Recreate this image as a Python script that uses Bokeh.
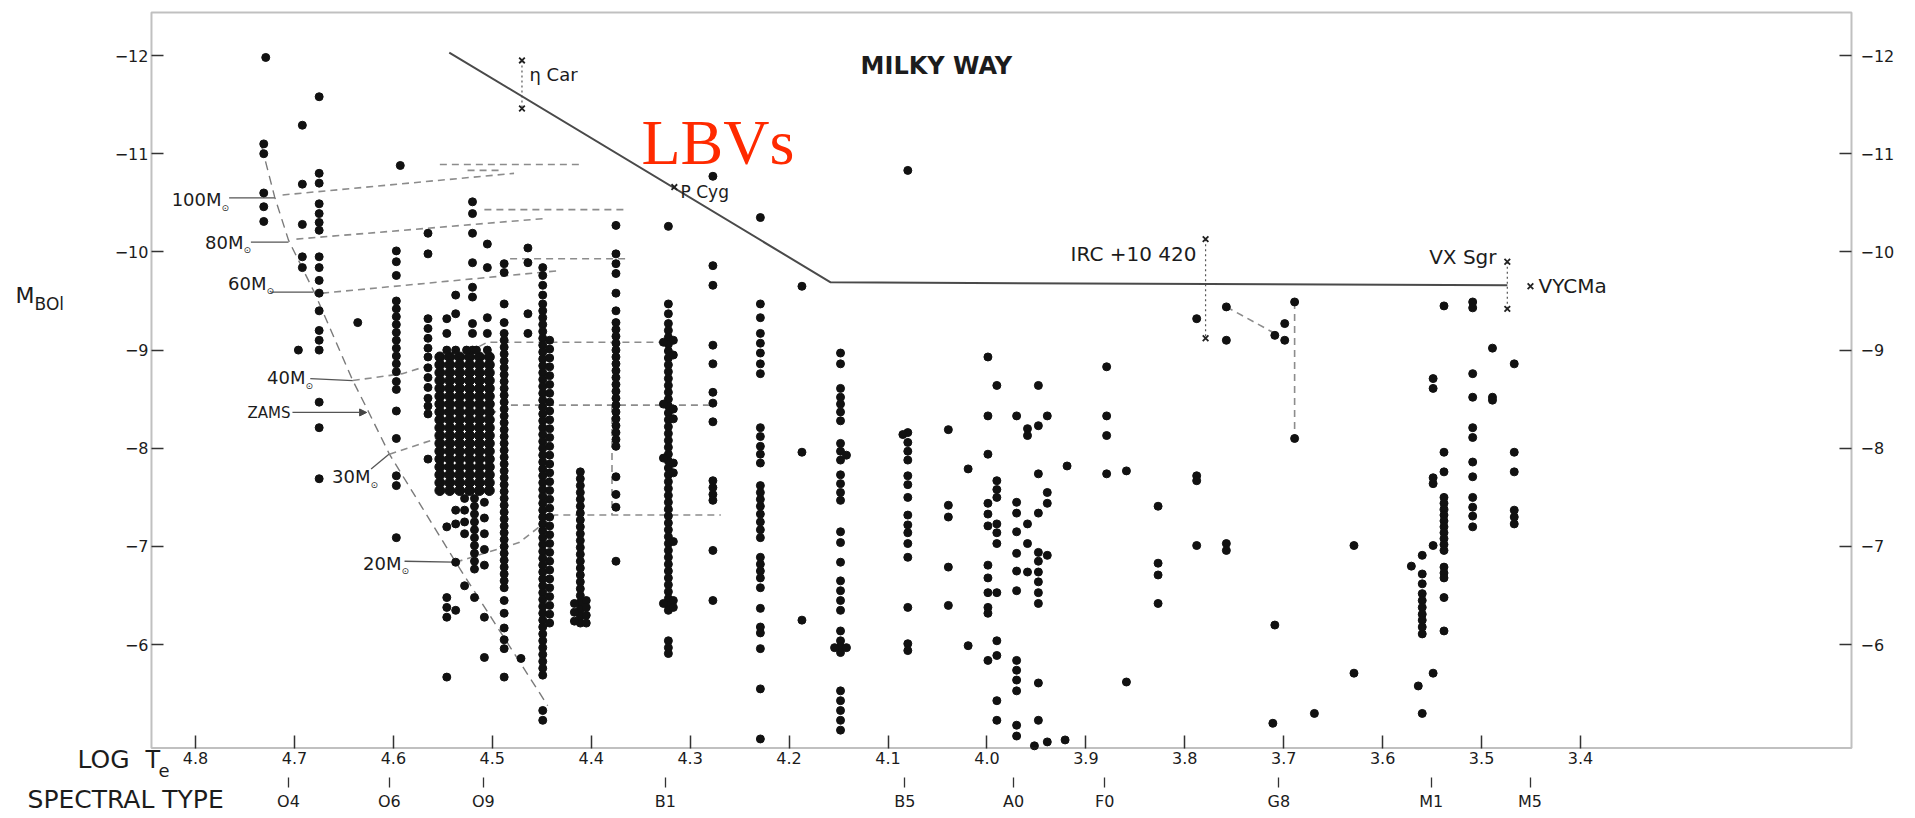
from bokeh.plotting import figure
from bokeh.models import (Range1d, LinearAxis, FixedTicker, CustomJSTickFormatter,
                          Arrow, NormalHead, BoxAnnotation)
from bokeh.core.properties import value
from bokeh.embed import file_html
from bokeh.resources import INLINE

FONT = "DejaVu Sans"
INK = "#1c1c1c"
DASH = "#8c8c8c"

# ---------------- axes / ticks ----------------
logte_ticks = [4.8, 4.7, 4.6, 4.5, 4.4, 4.3, 4.2, 4.1, 4.0, 3.9, 3.8, 3.7, 3.6, 3.5, 3.4]
mbol_ticks = [-12, -11, -10, -9, -8, -7, -6]
spec_types = ["O4", "O6", "O9", "B1", "B5", "A0", "F0", "G8", "M1", "M5"]
spec_logte = [4.706, 4.604, 4.509, 4.325, 4.083, 3.973, 3.881, 3.705, 3.551, 3.451]

# diagram box (data units) and the whole drawing area
box_left, box_right, box_bottom, box_top = 4.8445, 3.1261, -4.948, -12.438
view_x = (4.99711, 3.06140)
view_y = (-4.2301, -12.5601)
spec_axis_at = -4.709

# ---------------- stars (columns of log Te with their Mbol values) ----------------
star_columns = [
    (4.729, [-11.98]),
    (4.731, [-11.10, -11.00, -10.60, -10.46, -10.31]),
    (4.692, [-11.29, -10.69, -10.28, -9.95, -9.84]),
    (4.696, [-9.00]),
    (4.675, [-11.58, -10.80, -10.70, -10.49, -10.39, -10.30, -10.22, -9.95, -9.84, -9.71,
             -9.58, -9.40, -9.20, -9.10, -9.00, -8.47, -8.21, -7.69]),
    (4.636, [-9.28]),
    (4.593, [-10.88]),
    (4.597, [-10.01, -9.90, -9.76, -9.50, -9.42, -9.34, -9.26, -9.18, -9.10, -9.02, -8.94,
             -8.86, -8.78, -8.68, -8.60, -8.38, -8.10, -7.72, -7.62, -7.09]),
    (4.565, [-10.19, -9.98, -9.32, -9.22, -9.12, -9.02, -8.93, -8.82, -8.72, -8.62, -8.51,
             -8.43, -8.35, -7.89]),
    (4.546, [-9.32, -9.17, -9.00, -7.20, -6.48, -6.38, -6.28, -5.67]),
    (4.537, [-9.56, -9.37, -9.00, -7.37, -7.23, -6.84, -6.35]),
    (4.520, [-10.51, -10.39, -10.19, -9.89, -9.64, -9.54, -9.27, -9.17, -9.00]),
    (4.505, [-10.08, -9.84, -9.33, -9.17, -9.00]),
    (4.526, [-9.00]),
    (4.516, [-9.00]),
    (4.518, [-7.49, -7.41, -7.33, -7.25, -7.17, -7.09, -7.01, -6.93, -6.85, -6.77, -6.48]),
    (4.508, [-7.45, -7.29, -7.13, -6.97, -6.81, -6.28, -5.87]),
    (4.528, [-7.49, -7.37, -7.25, -7.13, -6.60]),
    (4.488, [-9.88, -9.79, -9.47, -9.28, -9.17, -9.10, -9.03, -8.96, -8.89, -8.82, -8.75,
             -8.68, -8.61, -8.54, -8.47, -8.40, -8.33, -8.26, -8.19, -8.12, -8.05, -7.98,
             -7.91, -7.84, -7.77, -7.70, -7.63, -7.56, -7.49, -7.42, -7.35, -7.28, -7.21,
             -7.14, -7.07, -7.00, -6.93, -6.86, -6.79, -6.72, -6.65, -6.58, -6.45, -6.32,
             -6.17, -6.05, -5.96, -5.67]),
    (4.471, [-5.86]),
    (4.464, [-10.04, -9.89, -9.37, -9.17]),
    (4.449, [-9.84, -9.76, -9.66, -9.56, -9.47, -9.40, -9.33, -9.26, -9.19, -9.12, -9.05,
             -8.98, -8.91, -8.84, -8.77, -8.70, -8.63, -8.56, -8.49, -8.42, -8.35, -8.28,
             -8.21, -8.14, -8.07, -8.00, -7.93, -7.86, -7.79, -7.72, -7.65, -7.58, -7.51,
             -7.44, -7.37, -7.30, -7.23, -7.16, -7.09, -7.02, -6.95, -6.88, -6.81, -6.74,
             -6.67, -6.60, -6.53, -6.46, -6.39, -6.32, -6.25, -6.18, -6.11, -6.04, -5.97,
             -5.90, -5.83, -5.76, -5.69, -5.33, -5.23]),
    (4.442, [-9.10, -9.01, -8.92, -8.83, -8.74, -8.65, -8.56, -8.47, -8.38, -8.29, -8.20,
             -8.11, -8.02, -7.93, -7.84, -7.75, -7.66, -7.57, -7.48, -7.39, -7.30, -7.21,
             -7.12, -7.03, -6.94, -6.85, -6.76, -6.67, -6.58, -6.49, -6.40, -6.31, -6.22]),
    (4.411, [-7.76, -7.69, -7.62, -7.55, -7.48, -7.41, -7.34, -7.27, -7.20, -7.13, -7.06,
             -6.99, -6.92, -6.85, -6.78, -6.71, -6.64, -6.57, -6.50, -6.43, -6.36, -6.29,
             -6.22]),
    (4.405, [-6.45, -6.38, -6.30, -6.22]),
    (4.417, [-6.42, -6.33, -6.24]),
    (4.375, [-10.27, -9.98, -9.88, -9.78, -9.58, -9.40, -9.28, -9.21, -9.14, -9.07, -9.00,
             -8.93, -8.86, -8.79, -8.72, -8.65, -8.58, -8.51, -8.44, -8.37, -8.30, -8.23,
             -8.16, -8.09, -8.02, -7.71, -7.53, -7.40, -6.85]),
    (4.322, [-10.26, -9.47, -9.37, -9.27, -9.20, -9.13, -9.06, -8.99, -8.92, -8.85, -8.78,
             -8.71, -8.64, -8.57, -8.50, -8.43, -8.36, -8.29, -8.22, -8.15, -8.08, -8.01,
             -7.94, -7.87, -7.80, -7.73, -7.66, -7.59, -7.52, -7.45, -7.38, -7.31, -7.24,
             -7.17, -7.10, -7.03, -6.96, -6.89, -6.82, -6.75, -6.68, -6.61, -6.54, -6.47,
             -6.40, -6.35, -6.04, -5.97, -5.91]),
    (4.317, [-9.10, -8.95, -8.40, -8.30, -7.85, -7.75, -7.05, -6.45, -6.38]),
    (4.327, [-9.08, -8.45, -7.90, -6.42]),
    (4.277, [-10.77, -9.86, -9.66, -9.05, -8.86, -8.57, -8.46, -8.27, -7.67, -7.60, -7.53,
             -7.47, -6.96, -6.45]),
    (4.229, [-10.35, -9.47, -9.33, -9.17, -9.07, -8.97, -8.86, -8.76, -8.21, -8.12, -8.02,
             -7.94, -7.85, -7.62, -7.55, -7.48, -7.41, -7.33, -7.25, -7.17, -7.09, -6.89,
             -6.82, -6.75, -6.68, -6.58, -6.37, -6.18, -6.12, -5.96, -5.55, -5.04]),
    (4.187, [-9.65, -7.96, -6.25]),
    (4.148, [-8.97, -8.86, -8.61, -8.52, -8.45, -8.37, -8.28, -8.05, -7.97, -7.88, -7.73,
             -7.64, -7.55, -7.47, -7.15, -7.04, -6.84, -6.65, -6.55, -6.45, -6.35, -6.14,
             -6.04, -5.98, -5.92, -5.53, -5.43, -5.33, -5.23, -5.13]),
    (4.142, [-7.93, -5.97]),
    (4.154, [-5.97]),
    (4.080, [-10.83, -8.16, -8.06, -7.97, -7.88, -7.72, -7.63, -7.50, -7.32, -7.22, -7.14,
             -7.03, -6.89, -6.38, -6.01, -5.94]),
    (4.085, [-8.14]),
    (4.039, [-8.19, -7.42, -7.30, -6.79, -6.40]),
    (4.019, [-7.79, -5.99]),
    (3.999, [-8.93, -8.33, -7.94, -7.44, -7.33, -7.21, -6.81, -6.68, -6.53, -6.38, -6.32,
             -5.84]),
    (3.990, [-8.64, -7.67, -7.58, -7.50, -7.23, -7.14, -7.03, -6.53, -6.04, -5.89, -5.43,
             -5.23]),
    (3.970, [-8.33, -7.45, -7.34, -7.15, -6.93, -6.75, -6.55, -5.84, -5.74, -5.64, -5.53,
             -5.18, -5.07]),
    (3.959, [-8.20, -8.13, -7.23, -7.03, -6.74]),
    (3.948, [-8.64, -8.23, -7.74, -7.34, -6.94, -6.85, -6.74, -6.64, -6.53, -6.42, -5.61,
             -5.23]),
    (3.952, [-4.97]),
    (3.939, [-8.33, -7.55, -7.44, -6.91, -5.01]),
    (3.921, [-5.03]),
    (3.919, [-7.82]),
    (3.879, [-8.83, -8.33, -8.13, -7.74]),
    (3.859, [-7.77, -5.62]),
    (3.827, [-7.41, -6.83, -6.71, -6.42]),
    (3.788, [-9.32, -7.72, -7.67, -7.01]),
    (3.758, [-9.44, -9.10, -7.03, -6.96]),
    (3.709, [-9.15, -6.20]),
    (3.711, [-5.20]),
    (3.699, [-9.27, -9.10]),
    (3.689, [-9.49, -8.10]),
    (3.669, [-5.30]),
    (3.629, [-7.01, -5.71]),
    (3.571, [-6.80]),
    (3.564, [-5.58]),
    (3.560, [-6.91, -6.72, -6.62, -6.52, -6.45, -6.38, -6.31, -6.25, -6.18, -6.11, -5.30]),
    (3.549, [-8.71, -8.61, -7.70, -7.64, -7.01, -5.71]),
    (3.538, [-9.45, -7.96, -7.76, -7.50, -7.44, -7.38, -7.32, -7.26, -7.20, -7.14, -7.08,
             -7.02, -6.96, -6.79, -6.73, -6.68, -6.48, -6.14]),
    (3.509, [-9.49, -9.43, -8.76, -8.52, -8.21, -8.11, -7.86, -7.71, -7.50, -7.40, -7.31,
             -7.20]),
    (3.489, [-9.02, -8.52, -8.49]),
    (3.467, [-8.86, -7.96, -7.76, -7.37, -7.30, -7.23]),
]

# the dense O-star clump near log Te 4.50-4.55
blob_logte = [4.553, 4.543, 4.533, 4.523, 4.513, 4.503]
blob_mbol = [-8.93, -8.85, -8.77, -8.69, -8.61, -8.53, -8.45, -8.37, -8.29, -8.21, -8.13,
             -8.05, -7.97, -7.89, -7.81, -7.73, -7.65, -7.57]

# ---------------- named stars (crosses) ----------------
cross_logte = [4.470, 4.470, 4.316, 3.779, 3.779, 3.474, 3.474, 3.4506]
cross_mbol = [-11.95, -11.46, -10.66, -10.13, -9.12, -9.90, -9.42, -9.65]
bars = [([4.470, 4.470], [-11.95, -11.46]),
        ([3.779, 3.779], [-10.13, -9.12]),
        ([3.474, 3.474], [-9.90, -9.42])]

# ---------------- upper luminosity boundary ----------------
limit_logte = [4.5435, 4.158, 3.474]
limit_mbol = [-12.03, -9.69, -9.66]

# ---------------- ZAMS and evolutionary tracks ----------------
zams_logte = [4.733, 4.720, 4.706, 4.679, 4.641, 4.625, 4.604, 4.537, 4.444]
zams_mbol = [-11.07, -10.56, -10.12, -9.57, -8.69, -8.37, -7.94, -6.84, -5.38]

tracks = [
    ([4.712, 4.478], [-10.58, -10.80]),
    ([4.553, 4.408], [-10.89, -10.89]),
    ([4.525, 4.490], [-10.83, -10.83]),
    ([4.698, 4.447], [-10.13, -10.34]),
    ([4.508, 4.367], [-10.43, -10.43]),
    ([4.672, 4.431], [-9.58, -9.81]),
    ([4.482, 4.361], [-9.93, -9.93]),
    ([4.641, 4.591, 4.530, 4.505, 4.313], [-8.69, -8.76, -8.95, -9.08, -9.08]),
    ([4.604, 4.553, 4.500, 4.487, 4.280], [-7.94, -8.11, -8.35, -8.44, -8.44]),
    ([4.379, 4.379], [-8.44, -7.32]),
    ([4.537, 4.473, 4.437, 4.269], [-6.84, -7.04, -7.32, -7.32]),
    ([3.758, 3.709], [-9.44, -9.17]),
    ([3.689, 3.689], [-9.49, -8.10]),
]

# mass labels and their leader lines
mass_names = ["100M", "80M", "60M", "40M", "30M", "20M"]
mass_label_logte = [4.7737, 4.7515, 4.7282, 4.6888, 4.6231, 4.5918]
mass_label_mbol = [-10.53, -10.10, -9.68, -8.72, -7.71, -6.83]
leaders = [
    ([4.766, 4.720], [-10.55, -10.55]),
    ([4.744, 4.706], [-10.10, -10.10]),
    ([4.724, 4.681], [-9.59, -9.59]),
    ([4.684, 4.641], [-8.71, -8.69]),
    ([4.6225, 4.6045], [-7.79, -7.94]),
    ([4.5887, 4.539], [-6.85, -6.84]),
]

# ---------------- figure ----------------
p = figure(width=1915, height=818,
           x_range=Range1d(*view_x), y_range=Range1d(*view_y),
           output_backend="svg", toolbar_location=None,
           min_border_left=0, min_border_right=0, min_border_top=0, min_border_bottom=0)
p.grid.visible = False
p.background_fill_color = "white"
p.border_fill_color = "white"
p.outline_line_color = None


def style_axis(ax, tick_in, tick_out, standoff, size):
    ax.axis_line_color = None
    ax.major_tick_in = tick_in
    ax.major_tick_out = tick_out
    ax.major_tick_line_color = "#333"
    ax.major_tick_line_width = 1.5
    ax.minor_tick_line_color = None
    ax.major_label_standoff = standoff
    ax.major_label_text_font = FONT
    ax.major_label_text_font_size = size
    ax.major_label_text_color = INK


xa = p.xaxis[0]
xa.ticker = FixedTicker(ticks=logte_ticks)
xa.formatter = CustomJSTickFormatter(code="return tick.toFixed(1);")
xa.fixed_location = box_bottom
style_axis(xa, 13, 0, 4, "16px")

sa = LinearAxis(ticker=FixedTicker(ticks=spec_logte), fixed_location=spec_axis_at,
                formatter=CustomJSTickFormatter(
                    args=dict(spec_ticks=spec_logte, spec_names=spec_types),
                    code="const i = spec_ticks.findIndex(t => Math.abs(t - tick) < 1e-6); return i >= 0 ? spec_names[i] : '';"))
style_axis(sa, -6, 16, 5, "16px")
sa.major_tick_line_width = 1.3
p.add_layout(sa, "below")

ya = p.yaxis[0]
ya.ticker = FixedTicker(ticks=mbol_ticks)
ya.fixed_location = box_left
style_axis(ya, 12, 0, 3, "16px")

yr = LinearAxis(ticker=FixedTicker(ticks=mbol_ticks), fixed_location=box_right)
style_axis(yr, 12, 0, 9, "16px")
p.add_layout(yr, "right")

p.add_layout(BoxAnnotation(left=box_left, right=box_right, bottom=box_bottom, top=box_top,
                           fill_color=None, line_color="#2e2e2e", line_width=2))

# ---------------- lines ----------------
p.line(zams_logte, zams_mbol, line_color="#7a7a7a", line_width=1.4, line_dash="9 6")
for xs, ys in tracks:
    p.line(xs, ys, line_color=DASH, line_width=1.6, line_dash="7 5")
for xs, ys in leaders:
    p.line(xs, ys, line_color="#555", line_width=1.3)
for xs, ys in bars:
    p.line(xs, ys, line_color="#555", line_width=1.2, line_dash="2 3")
p.line(limit_logte, limit_mbol, line_color="#4a4a4a", line_width=2)

p.add_layout(Arrow(end=NormalHead(size=7, fill_color="#444", line_color="#444"),
                   x_start=4.702, y_start=-8.365, x_end=4.627, y_end=-8.365,
                   line_color="#555", line_width=1.3))

# ---------------- stars ----------------
sx, sy = [], []
for t, ms in star_columns:
    sx += [t] * len(ms)
    sy += ms
bx, by = [], []
for t in blob_logte:
    bx += [t] * len(blob_mbol)
    by += blob_mbol
p.scatter(bx, by, size=10, marker="circle", fill_color="#111", line_color="#111")
p.scatter(sx, sy, size=8, marker="circle", fill_color="#111", line_color="#111")
p.scatter(cross_logte, cross_mbol, size=8, marker="x", line_color="#222", line_width=1.8)

# ---------------- texts ----------------
tf = value(FONT)


def txt(x, y, text, size, align="left", **kw):
    p.text(x=x, y=y, text=text, text_font=kw.pop("font", tf), text_font_size=size,
           text_color=kw.pop("color", INK), text_align=align, text_baseline="middle", **kw)


txt(mass_label_logte, mass_label_mbol, mass_names, "18px", align="right")
txt(mass_label_logte, mass_label_mbol, ["⊙"] * len(mass_names), "9px", y_offset=8)
txt([4.7040], [-8.357], ["ZAMS"], "15px", align="right")

txt([4.4624], [-11.807], ["η Car"], "18px")
txt([4.3097], [-10.608], ["P Cyg"], "17px")
txt([3.7882], [-9.974], ["IRC +10 420"], "20px", align="right")
txt([3.4849], [-9.953], ["VX Sgr"], "20px", align="right")
txt([3.4425], [-9.648], ["VYCMa"], "20px")
txt([4.0469], [-11.898], ["MILKY  WAY"], "24px", align="center", text_font_style="bold")
txt([4.3492], [-11.114], ["LBVs"], "64px", font=value("Liberation Serif"), color="#ff2a00")

# axis titles
txt([4.982], [-9.556], ["M"], "22px")
txt([4.9627], [-9.4695], ["BOl"], "17px")
txt([4.9193], [-4.8259], ["LOG"], "25px")
txt([4.8505], [-4.8259], ["T"], "24px")
txt([4.8374], [-4.7189], ["e"], "18px")
txt([4.9698], [-4.4236], ["SPECTRAL TYPE"], "25px")

open("out.html", "w").write(file_html(p, INLINE))
